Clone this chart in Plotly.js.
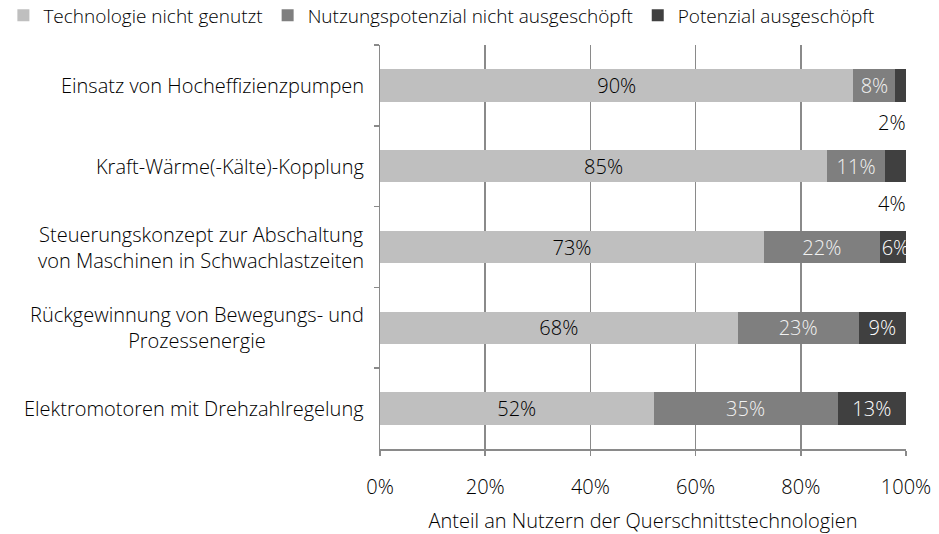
<!DOCTYPE html>
<html><head><meta charset="utf-8">
<script src="https://cdn.plot.ly/plotly-3.0.1.min.js"></script>
<style>html,body{margin:0;padding:0;background:#fff}#chart{width:939px;height:534px}</style>
</head><body><div id="chart"></div>
<script>
const categories = [
  "Einsatz von Hocheffizienzpumpen",
  "Kraft-Wärme(-Kälte)-Kopplung",
  "Steuerungskonzept zur Abschaltung<br>von Maschinen in Schwachlastzeiten",
  "Rückgewinnung von Bewegungs- und<br>Prozessenergie",
  "Elektromotoren mit Drehzahlregelung"
];
const seriesNames = ["Technologie nicht genutzt", "Nutzungspotenzial nicht ausgeschöpft", "Potenzial ausgeschöpft"];
const notUsed   = [90, 85, 73, 68, 52];
const notFull   = [8, 11, 22, 23, 35];
const exhausted = [2, 4, 6, 9, 13];
const xTickVals = [0, 20, 40, 60, 80, 100];
const xTickText = ["0%", "20%", "40%", "60%", "80%", "100%"];

const colors = ["#bfbfbf", "#7f7f7f", "#404040"];
const txtColors = ["#000000", "#f2f2f2", "#ffffff"];
const FONT = "Open Sans, Lato, sans-serif";
const FS = 20;
const series = [notUsed, notFull, exhausted];
const minInside = 5;

const yKeys = categories.map((c, i) => "c" + i);

const traces = series.map((vals, s) => ({
  type: "bar",
  orientation: "h",
  name: seriesNames[s],
  y: yKeys,
  x: vals,
  marker: {color: colors[s], line: {width: 0}},
  text: vals.map(v => v >= minInside ? v + "%" : ""),
  textposition: "inside",
  insidetextanchor: "middle",
  textangle: 0,
  constraintext: "none",
  textfont: {family: FONT, size: FS, color: txtColors[s], weight: 300},
  hoverinfo: "none"
}));

const annotations = [];
categories.forEach((c, i) => {
  annotations.push({
    xref: "paper", yref: "y", x: 0, y: yKeys[i],
    xanchor: "right", yanchor: "middle", xshift: -14,
    text: c, showarrow: false, align: "center",
    font: {family: FONT, size: FS, color: "#000", weight: 300}
  });
  series.forEach((vals, s) => {
    if (vals[i] < minInside) {
      const total = series.reduce((a, v) => a + v[i], 0);
      annotations.push({
        xref: "x", yref: "y", x: total, y: yKeys[i],
        xanchor: "right", yanchor: "middle", yshift: -37, xshift: 2,
        text: vals[i] + "%", showarrow: false,
        font: {family: FONT, size: FS, color: "#000", weight: 300}
      });
    }
  });
});

const layout = {
  width: 939, height: 534,
  margin: {l: 380, r: 33, t: 45, b: 85, autoexpand: false},
  paper_bgcolor: "#fff", plot_bgcolor: "#fff",
  barmode: "stack",
  bargap: 0.6,
  showlegend: true,
  legend: {
    orientation: "h",
    x: -0.716, xanchor: "left", y: 1.12, yanchor: "top",
    font: {family: FONT, size: 19, color: "#000", weight: 300},
    traceorder: "normal", itemwidth: 30, tracegroupgap: 0
  },
  xaxis: {
    range: [0, 100], tickvals: xTickVals, ticktext: xTickText,
    showgrid: true, gridcolor: "#8a8a8a", gridwidth: 1.5,
    showline: true, linecolor: "#8a8a8a", linewidth: 1.5,
    ticks: "outside", ticklen: 5, tickcolor: "#8a8a8a", tickwidth: 1.5,
    ticklabelstandoff: 14,
    zeroline: false, fixedrange: true,
    tickfont: {family: FONT, size: FS, color: "#000", weight: 300},
    title: {text: "Anteil an Nutzern der Querschnittstechnologien", standoff: 15,
            font: {family: FONT, size: FS, color: "#000", weight: 300}}
  },
  yaxis: {
    type: "category", range: [4.5, -0.5], autorange: false,
    showticklabels: false,
    showline: true, linecolor: "#8a8a8a", linewidth: 1.5,
    ticks: "outside", ticklen: 5, tickcolor: "#8a8a8a", tickwidth: 1.5,
    tickson: "boundaries",
    showgrid: false, zeroline: false, fixedrange: true
  },
  uniformtext: {mode: "show", minsize: FS},
  annotations: annotations
};

Plotly.newPlot("chart", traces, layout, {displayModeBar: false, staticPlot: true});
</script></body></html>
